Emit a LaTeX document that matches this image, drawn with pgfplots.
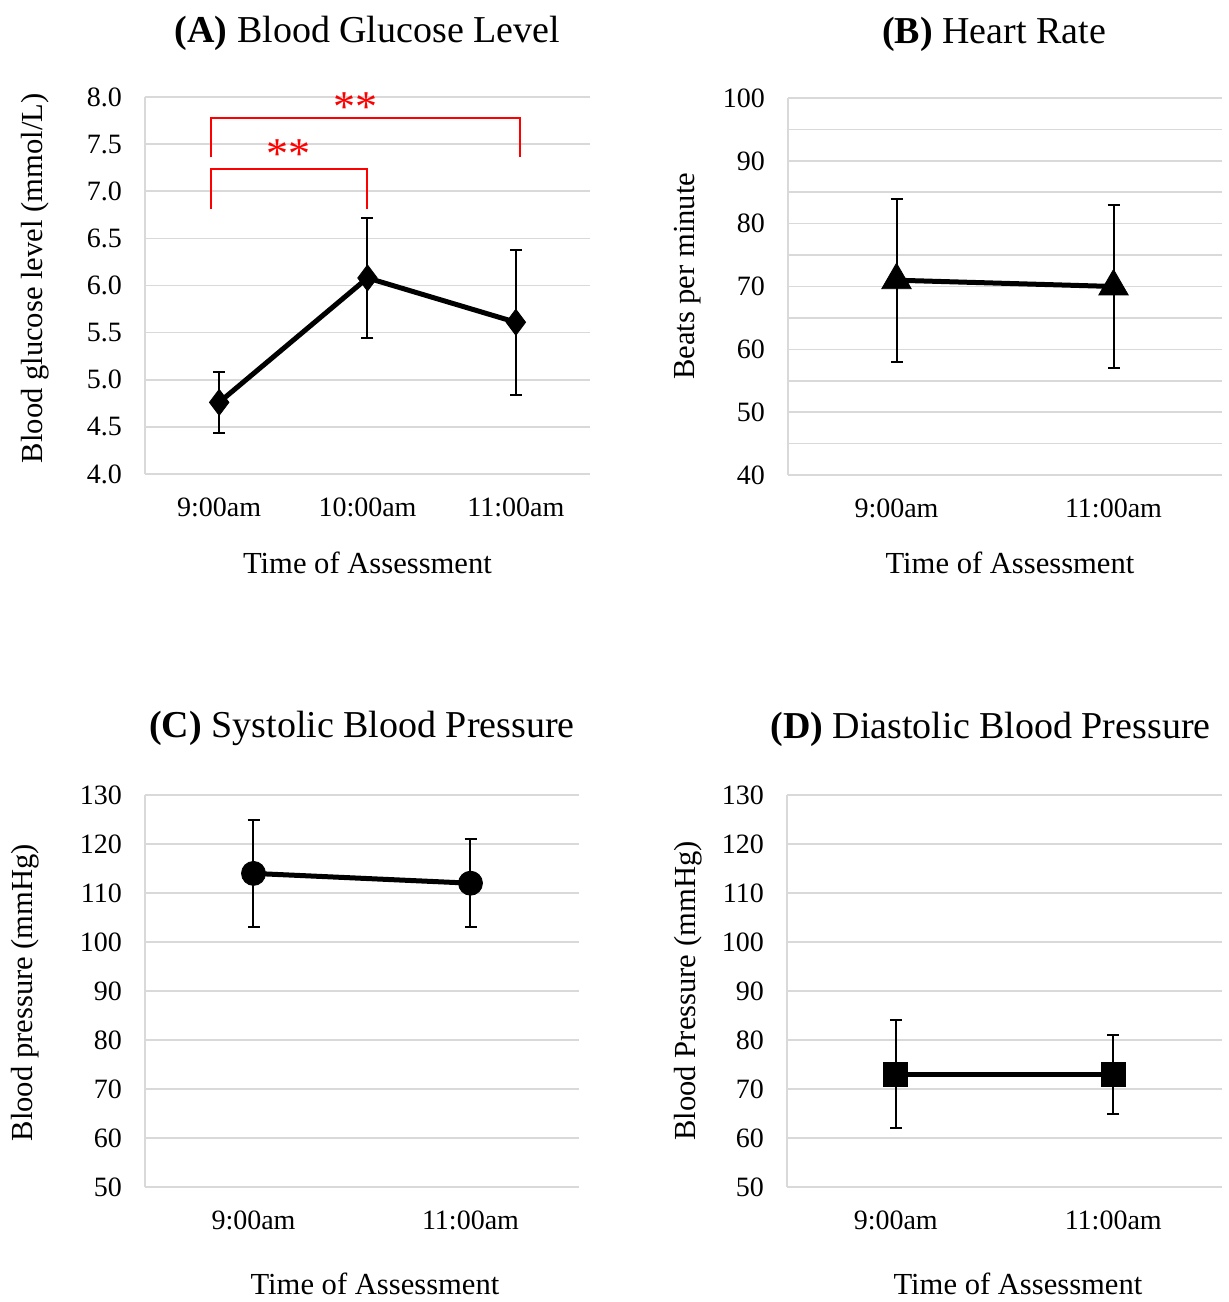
\documentclass[border=0pt]{standalone}
\usepackage{fontspec}
\setmainfont{Liberation Serif}
\usepackage{pgfplots}
\pgfplotsset{compat=1.18}
\definecolor{gridgray}{RGB}{217,217,217}
\pgfplotsset{
  panel/.style={
    scale only axis,
    anchor=south west,
    axis x line*=bottom, axis y line*=left,
    axis line style={gridgray, line width=0.8pt},
    ymajorgrids, major grid style={gridgray, line width=0.8pt},
    minor grid style={gridgray, line width=0.8pt},
    tick style={draw=none},
    /pgf/number format/assume math mode=true,
    tick label style={font=\fontsize{14}{16}\selectfont},
    yticklabel style={anchor=east, xshift=-8pt},
    xticklabel style={anchor=center, yshift=-16.5pt},
    label style={font=\fontsize{15.3}{18}\selectfont},
    title style={font=\fontsize{19}{22}\selectfont, anchor=center, at={(0.5,1)}},
    clip=false,
  },
  dataline/.style={black, line width=2.5pt, mark options={solid, line width=0.4pt, fill=black},
    error bars/y dir=both, error bars/y explicit,
    error bars/error bar style={line width=1pt, black},
    error bars/error mark options={rotate=90, mark size=3pt, line width=1pt, black}},
}
\begin{document}
\begin{tikzpicture}
\path[use as bounding box] (0,0) rectangle (614pt,651pt);
% (A)
\begin{axis}[panel, at={(72.5pt,414pt)}, width=222.5pt, height=188.5pt,
  xmin=-0.5, xmax=2.5, ymin=4, ymax=8,
  xtick={0,1,2}, xticklabels={9:00am,10:00am,11:00am},
  ytick={4,4.5,...,8},
  yticklabel style={/pgf/number format/.cd, fixed, fixed zerofill, precision=1},
  title={\textbf{(A)} Blood Glucose Level}, title style={yshift=26pt},
  xlabel={Time of Assessment}, xlabel style={at={(axis description cs:0.5,0)}, anchor=center, yshift=-44.5pt},
  ylabel={Blood glucose level (mmol/L)}, ylabel style={at={(axis description cs:-0.2472,0.519)}, anchor=center},
]
\addplot[red, line width=1pt] coordinates {(-0.054,6.81) (-0.054,7.24) (1,7.24) (1,6.81)};
\addplot[red, line width=1pt] coordinates {(-0.054,7.36) (-0.054,7.78) (2.027,7.78) (2.027,7.36)};
\node[red, anchor=base, font=\fontsize{22}{24}\selectfont] at (axis cs:0.916,7.735) {**};
\node[red, anchor=base, font=\fontsize{22}{24}\selectfont] at (axis cs:0.47,7.24) {**};
\addplot[dataline, mark=diamond*, mark size=6.5pt] coordinates {
  (0,4.76) +- (0,0.32)
  (1,6.08) +- (0,0.64)
  (2,5.61) +- (0,0.77)
};
\end{axis}
% (B)
\begin{axis}[panel, at={(394pt,413.5pt)}, width=217pt, height=188.5pt,
  xmin=-0.5, xmax=1.5, ymin=40, ymax=100,
  xtick={0,1}, xticklabels={9:00am,11:00am},
  ytick={40,50,...,100}, minor y tick num=1, yminorgrids,
  title={\textbf{(B)} Heart Rate}, title style={yshift=26pt, xshift=-5.5pt},
  xlabel={Time of Assessment}, xlabel style={at={(axis description cs:0.5,0)}, anchor=center, yshift=-44pt, xshift=2.5pt},
  ylabel={Beats per minute}, ylabel style={at={(axis description cs:-0.2304,0.527)}, anchor=center},
]
\addplot[dataline, mark=triangle*, mark size=8.5pt] coordinates {
  (0,71) +- (0,13)
  (1,70) +- (0,13)
};
\end{axis}
% (C)
\begin{axis}[panel, at={(72.5pt,57.5pt)}, width=217pt, height=196pt,
  xmin=-0.5, xmax=1.5, ymin=50, ymax=130,
  xtick={0,1}, xticklabels={9:00am,11:00am},
  ytick={50,60,...,130},
  title={\textbf{(C)} Systolic Blood Pressure}, title style={yshift=27.5pt},
  xlabel={Time of Assessment}, xlabel style={at={(axis description cs:0.5,0)}, anchor=center, yshift=-48.5pt, xshift=6.5pt},
  ylabel={Blood pressure (mmHg)}, ylabel style={at={(axis description cs:-0.2765,0.496)}, anchor=center},
]
\addplot[dataline, mark=*, mark size=6pt] coordinates {
  (0,114) +- (0,11)
  (1,112) +- (0,9)
};
\end{axis}
% (D)
\begin{axis}[panel, at={(393.5pt,57.5pt)}, width=217.5pt, height=196pt,
  xmin=-0.5, xmax=1.5, ymin=50, ymax=130,
  xtick={0,1}, xticklabels={9:00am,11:00am},
  ytick={50,60,...,130},
  title={\textbf{(D)} Diastolic Blood Pressure}, title style={yshift=27pt, xshift=-7pt},
  xlabel={Time of Assessment}, xlabel style={at={(axis description cs:0.5,0)}, anchor=center, yshift=-48.5pt, xshift=6.75pt},
  ylabel={Blood Pressure (mmHg)}, ylabel style={at={(axis description cs:-0.2276,0.5)}, anchor=center},
]
\addplot[dataline, mark=square*, mark size=6pt] coordinates {
  (0,73) +- (0,11)
  (1,73) +- (0,8)
};
\end{axis}
\end{tikzpicture}
\end{document}
